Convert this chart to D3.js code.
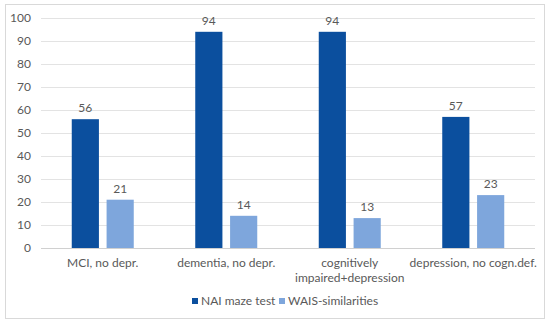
<!DOCTYPE html>
<html>
<head>
<meta charset="utf-8">
<script src="https://cdn.jsdelivr.net/npm/d3@7"></script>
<style>
  body { margin: 0; background: #fff; }
  text { font-family: Lato, "Open Sans", sans-serif; fill: #595959; }
</style>
</head>
<body>
<div id="chart"></div>
<script>
const categories = [["MCI, no depr."], ["dementia, no depr."], ["cognitively", "impaired+depression"], ["depression, no cogn.def."]];
const seriesNames = ["NAI maze test", "WAIS-similarities"];
const naiValues = [56, 94, 94, 57];
const waisValues = [21, 14, 13, 23];
const yTicks = [0, 10, 20, 30, 40, 50, 60, 70, 80, 90, 100];
const colors = ["#0b4f9e", "#7ea6dc"];

const width = 550, height = 326;
const margin = {top: 18, right: 15, bottom: 78, left: 41};
const innerWidth = width - margin.left - margin.right;
const innerHeight = height - margin.top - margin.bottom;

const svg = d3.select("#chart").append("svg")
    .attr("width", width)
    .attr("height", height);

// outer frame
svg.append("rect")
    .attr("x", 5.5).attr("y", 4.5)
    .attr("width", 539).attr("height", 314)
    .attr("fill", "#fff")
    .attr("stroke", "#d9d9d9");

const g = svg.append("g")
    .attr("transform", `translate(${margin.left},${margin.top})`);

const x0 = d3.scaleBand().domain(d3.range(categories.length)).range([0, innerWidth]);
const x1 = d3.scaleBand().domain(d3.range(seriesNames.length)).range([0, 62]).paddingInner(0.22);
const y = d3.scaleLinear().domain([0, 100]).range([innerHeight, 0]);

// gridlines
g.selectAll(".grid")
    .data(yTicks)
    .enter()
    .append("line")
    .attr("class", "grid")
    .attr("x1", 0).attr("x2", innerWidth)
    .attr("y1", d => Math.round(y(d)) + 0.5)
    .attr("y2", d => Math.round(y(d)) + 0.5)
    .attr("stroke", d => d === 0 ? "#d0d0d0" : "#e3e3e3");

// y tick labels
g.selectAll(".ytick")
    .data(yTicks)
    .enter()
    .append("text")
    .attr("class", "ytick")
    .attr("x", -10)
    .attr("y", d => y(d))
    .attr("dy", "0.35em")
    .attr("text-anchor", "end")
    .attr("font-size", 12)
    .text(d => d);

const rows = categories.map((c, i) => [naiValues[i], waisValues[i]]);

const groups = g.selectAll(".cat")
    .data(rows)
    .enter()
    .append("g")
    .attr("class", "cat")
    .attr("transform", (d, i) => `translate(${x0(i) + x0.bandwidth() / 2 - 31},0)`);

groups.selectAll("rect")
    .data(d => d)
    .enter()
    .append("rect")
    .attr("x", (d, j) => x1(j))
    .attr("width", x1.bandwidth())
    .attr("y", d => y(d))
    .attr("height", d => innerHeight - y(d))
    .attr("fill", (d, j) => colors[j]);

groups.selectAll(".val")
    .data(d => d)
    .enter()
    .append("text")
    .attr("class", "val")
    .attr("x", (d, j) => x1(j) + x1.bandwidth() / 2)
    .attr("y", d => y(d) - 7)
    .attr("text-anchor", "middle")
    .attr("font-size", 12)
    .text(d => d);

// category labels
g.selectAll(".xlab")
    .data(categories)
    .enter()
    .append("text")
    .attr("class", "xlab")
    .attr("x", (d, i) => x0(i) + x0.bandwidth() / 2)
    .attr("y", innerHeight + 19)
    .attr("text-anchor", "middle")
    .attr("font-size", 12)
    .each(function(d) {
        d.forEach((line, k) => {
            d3.select(this).append("tspan")
                .attr("x", d3.select(this).attr("x"))
                .attr("dy", k === 0 ? 0 : 15)
                .text(line);
        });
    });

// legend
const legend = svg.append("g").attr("transform", "translate(192,301)");
const legendX = [0, 87];
seriesNames.forEach((name, i) => {
    const item = legend.append("g").attr("transform", `translate(${legendX[i]},0)`);
    item.append("rect")
        .attr("x", 0).attr("y", -3)
        .attr("width", 6).attr("height", 6)
        .attr("fill", colors[i]);
    item.append("text")
        .attr("x", 9).attr("y", 0)
        .attr("dy", "0.35em")
        .attr("font-size", 12)
        .text(name);
});
</script>
</body>
</html>
